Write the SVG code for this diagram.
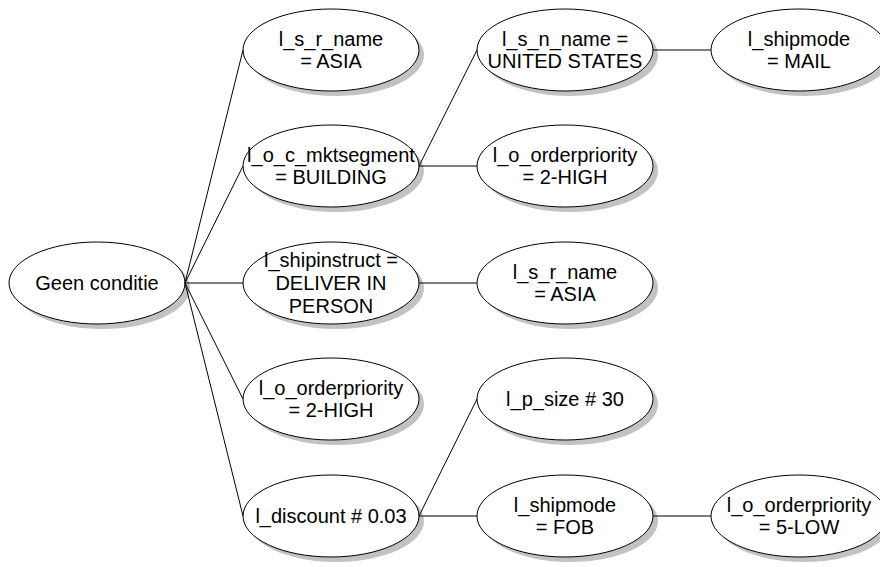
<svg xmlns="http://www.w3.org/2000/svg" width="880" height="567" viewBox="0 0 880 567">
  <defs>
    <style>
      .shadow { fill: #c2c2c2; stroke: none; }
      .body { fill: #ffffff; stroke: #000000; stroke-width: 1; }
      .label { font-family: "Liberation Sans", Arial, sans-serif; font-size: 20px; fill: #000000; text-anchor: middle; }
      .edge { stroke: #000000; stroke-width: 1; fill: none; }
    </style>
  </defs>
  <rect width="880" height="567" fill="#ffffff"/>

  <!-- tree nodes: offset shadow ellipse, white body ellipse, centred label -->
  <g id="node-root">
    <ellipse class="shadow" cx="102" cy="288" rx="88" ry="41"/>
    <ellipse class="body" cx="97" cy="283" rx="88" ry="41"/>
    <text class="label" x="97" y="290">Geen conditie</text>
  </g>

  <g id="node-s-r-name">
    <ellipse class="shadow" cx="336" cy="55" rx="88" ry="41"/>
    <ellipse class="body" cx="331" cy="50" rx="88" ry="41"/>
    <text class="label" x="331" y="46">l_s_r_name</text>
    <text class="label" x="331" y="68">= ASIA</text>
  </g>

  <g id="node-mktsegment">
    <ellipse class="shadow" cx="336" cy="171" rx="88" ry="41"/>
    <ellipse class="body" cx="331" cy="166" rx="88" ry="41"/>
    <text class="label" x="331" y="162">l_o_c_mktsegment</text>
    <text class="label" x="331" y="184">= BUILDING</text>
  </g>

  <g id="node-shipinstruct">
    <ellipse class="shadow" cx="336" cy="288" rx="88" ry="41"/>
    <ellipse class="body" cx="331" cy="283" rx="88" ry="41"/>
    <text class="label" x="331" y="267">l_shipinstruct =</text>
    <text class="label" x="331" y="290">DELIVER IN</text>
    <text class="label" x="331" y="313">PERSON</text>
  </g>

  <g id="node-orderpriority-a">
    <ellipse class="shadow" cx="336" cy="404" rx="88" ry="41"/>
    <ellipse class="body" cx="331" cy="399" rx="88" ry="41"/>
    <text class="label" x="331" y="395">l_o_orderpriority</text>
    <text class="label" x="331" y="417">= 2-HIGH</text>
  </g>

  <g id="node-discount">
    <ellipse class="shadow" cx="336" cy="521" rx="88" ry="41"/>
    <ellipse class="body" cx="331" cy="516" rx="88" ry="41"/>
    <text class="label" x="331" y="523">l_discount # 0.03</text>
  </g>

  <g id="node-s-n-name">
    <ellipse class="shadow" cx="570" cy="55" rx="88" ry="41"/>
    <ellipse class="body" cx="565" cy="50" rx="88" ry="41"/>
    <text class="label" x="565" y="46">l_s_n_name =</text>
    <text class="label" x="565" y="68">UNITED STATES</text>
  </g>

  <g id="node-orderpriority-b">
    <ellipse class="shadow" cx="570" cy="171" rx="88" ry="41"/>
    <ellipse class="body" cx="565" cy="166" rx="88" ry="41"/>
    <text class="label" x="565" y="162">l_o_orderpriority</text>
    <text class="label" x="565" y="184">= 2-HIGH</text>
  </g>

  <g id="node-s-r-name-b">
    <ellipse class="shadow" cx="570" cy="288" rx="88" ry="41"/>
    <ellipse class="body" cx="565" cy="283" rx="88" ry="41"/>
    <text class="label" x="565" y="279">l_s_r_name</text>
    <text class="label" x="565" y="301">= ASIA</text>
  </g>

  <g id="node-p-size">
    <ellipse class="shadow" cx="570" cy="404" rx="88" ry="41"/>
    <ellipse class="body" cx="565" cy="399" rx="88" ry="41"/>
    <text class="label" x="565" y="406">l_p_size # 30</text>
  </g>

  <g id="node-shipmode-fob">
    <ellipse class="shadow" cx="570" cy="521" rx="88" ry="41"/>
    <ellipse class="body" cx="565" cy="516" rx="88" ry="41"/>
    <text class="label" x="565" y="512">l_shipmode</text>
    <text class="label" x="565" y="534">= FOB</text>
  </g>

  <g id="node-shipmode-mail">
    <ellipse class="shadow" cx="804" cy="55" rx="88" ry="41"/>
    <ellipse class="body" cx="799" cy="50" rx="88" ry="41"/>
    <text class="label" x="799" y="46">l_shipmode</text>
    <text class="label" x="799" y="68">= MAIL</text>
  </g>

  <g id="node-orderpriority-c">
    <ellipse class="shadow" cx="804" cy="521" rx="88" ry="41"/>
    <ellipse class="body" cx="799" cy="516" rx="88" ry="41"/>
    <text class="label" x="799" y="512">l_o_orderpriority</text>
    <text class="label" x="799" y="534">= 5-LOW</text>
  </g>

  <!-- connectors: right tip of parent to left tip of child -->
  <g id="connectors">
    <line class="edge" x1="185" y1="283" x2="243" y2="50"/>
    <line class="edge" x1="185" y1="283" x2="243" y2="166"/>
    <line class="edge" x1="185" y1="283" x2="243" y2="283"/>
    <line class="edge" x1="185" y1="283" x2="243" y2="399"/>
    <line class="edge" x1="185" y1="283" x2="243" y2="516"/>
    <line class="edge" x1="419" y1="166" x2="477" y2="50"/>
    <line class="edge" x1="419" y1="166" x2="477" y2="166"/>
    <line class="edge" x1="419" y1="283" x2="477" y2="283"/>
    <line class="edge" x1="419" y1="516" x2="477" y2="399"/>
    <line class="edge" x1="419" y1="516" x2="477" y2="516"/>
    <line class="edge" x1="653" y1="50" x2="711" y2="50"/>
    <line class="edge" x1="653" y1="516" x2="711" y2="516"/>
  </g>
</svg>
